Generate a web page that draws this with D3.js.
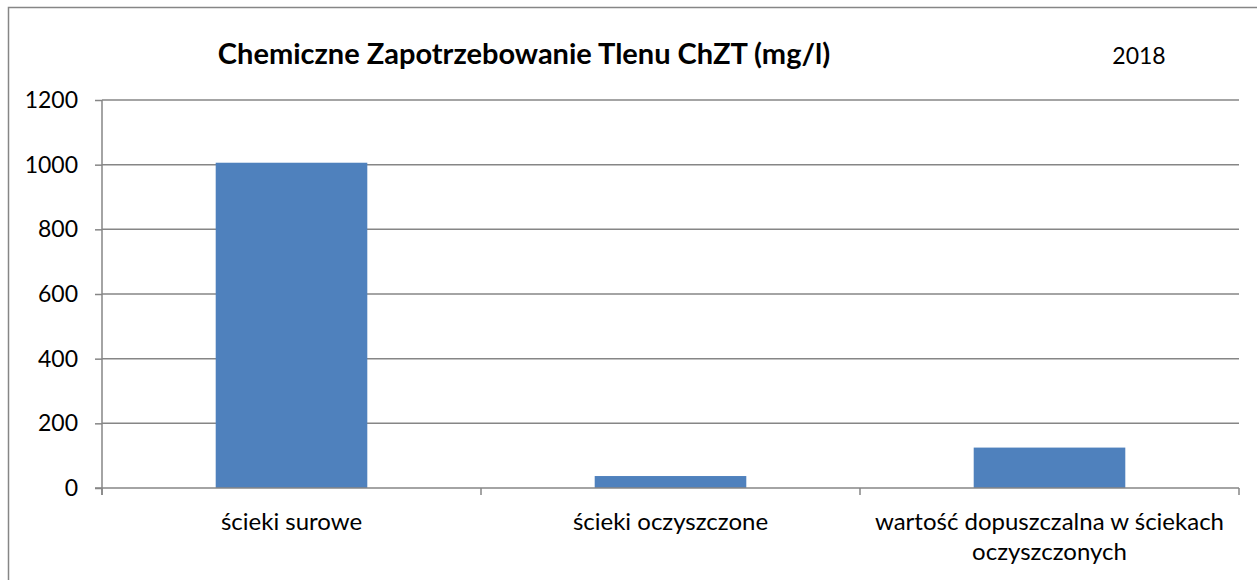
<!DOCTYPE html>
<html>
<head>
<meta charset="utf-8">
<script src="https://cdn.jsdelivr.net/npm/d3@7"></script>
<style>
  body { margin: 0; background: #fff; }
  text { font-family: Lato, 'Open Sans', sans-serif; fill: #000; }
  .grid line { stroke: #868686; stroke-width: 1.5; }
  .axis path, .axis line { stroke: #868686; stroke-width: 1.5; }
</style>
</head>
<body>
<div id='chart'></div>

<script>
  var categories = ['ścieki surowe', 'ścieki oczyszczone', 'wartość dopuszczalna w ściekach|oczyszczonych']
  var values = [1006, 37, 125]
  var yTicks = [0, 200, 400, 600, 800, 1000, 1200]
  var title = 'Chemiczne Zapotrzebowanie Tlenu ChZT (mg/l)'
  var year = '2018'

  var width = 1257, height = 580
  var plotLeft = 102, plotRight = 1239, plotTop = 100, plotBottom = 488

  svg = d3.select('#chart')
          .append('svg')
          .attr('width', width)
          .attr('height', height)

  // chart frame (right and bottom edges fall outside the picture)
  svg.append('rect')
     .attr('x', 8.5)
     .attr('y', 7.5)
     .attr('width', 1300)
     .attr('height', 700)
     .attr('fill', 'none')
     .attr('stroke', '#868686')
     .attr('stroke-width', 1.5)

  x = d3.scaleBand()
        .domain(categories)
        .range([plotLeft, plotRight])
        .padding(0)

  y = d3.scaleLinear()
        .domain([0, 1200])
        .range([plotBottom, plotTop])

  // gridlines
  svg.append('g')
     .classed('grid', true)
     .selectAll('line')
     .data(yTicks.slice(1))
     .enter()
     .append('line')
     .attr('x1', plotLeft)
     .attr('x2', plotRight)
     .attr('y1', function(d) { return y(d) })
     .attr('y2', function(d) { return y(d) })

  // y axis
  yAxis = svg.append('g')
             .classed('axis', true)
             .attr('transform', 'translate(' + plotLeft + ',0)')
             .call(d3.axisLeft(y).tickValues(yTicks).tickFormat(d3.format('d')).tickSize(7).tickPadding(17))
  yAxis.select('.domain').attr('d', 'M0,' + plotTop + 'V' + (plotBottom + 7))
  yAxis.selectAll('text')
       .style('font-size', '23px')
       .style('font-family', 'Lato')
       .attr('fill', '#000')

  // bars
  var barW = x.bandwidth() * 0.4
  svg.selectAll('.bar')
     .data(values)
     .enter()
     .append('rect')
     .classed('bar', true)
     .attr('x', function(d, i) { return x(categories[i]) + (x.bandwidth() - barW) / 2 })
     .attr('y', function(d) { return y(d) })
     .attr('width', barW)
     .attr('height', function(d) { return y(0) - y(d) })
     .attr('fill', '#4F81BD')

  // x axis
  svg.append('line')
     .attr('x1', plotLeft - 7).attr('x2', plotRight)
     .attr('y1', plotBottom).attr('y2', plotBottom)
     .attr('stroke', '#868686').attr('stroke-width', 1.5)

  var tickX = categories.map(function(c) { return x(c) }).concat([plotRight])
  svg.selectAll('.xtick')
     .data(tickX)
     .enter()
     .append('line')
     .attr('x1', function(d) { return d })
     .attr('x2', function(d) { return d })
     .attr('y1', plotBottom)
     .attr('y2', plotBottom + 7)
     .attr('stroke', '#868686').attr('stroke-width', 1.5)

  labels = svg.selectAll('.xlabel')
              .data(categories)
              .enter()
              .append('text')
              .attr('text-anchor', 'middle')
              .attr('x', function(d) { return x(d) + x.bandwidth() / 2 })
              .attr('y', 530)
              .style('font-size', '24px')

  labels.selectAll('tspan')
        .data(function(d) { return d.split('|') })
        .enter()
        .append('tspan')
        .attr('x', function() { return d3.select(this.parentNode).attr('x') })
        .attr('dy', function(d, i) { return i == 0 ? 0 : 30 })
        .text(function(d) { return d })

  svg.append('text')
     .attr('x', 524)
     .attr('y', 64)
     .attr('text-anchor', 'middle')
     .style('font-size', '29px')
     .style('font-weight', 'bold')
     .text(title)

  svg.append('text')
     .attr('x', 1139)
     .attr('y', 64)
     .attr('text-anchor', 'middle')
     .style('font-size', '23px')
     .text(year)
</script>
</body>
</html>
